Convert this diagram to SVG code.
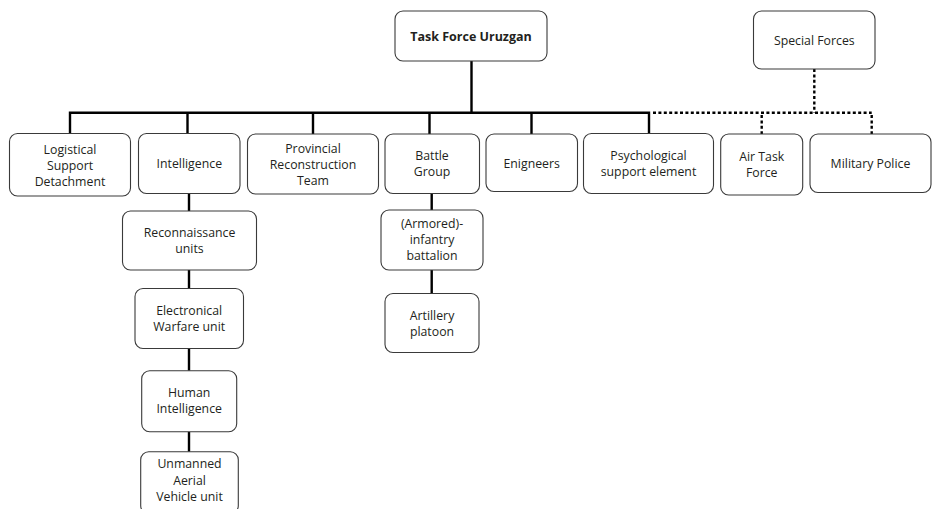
<svg xmlns="http://www.w3.org/2000/svg" width="932" height="509" viewBox="0 0 932 509">
  <style>
    .box { fill: #ffffff; stroke: #3a3a3a; stroke-width: 1.1; }
    .lbl { font-family: "Open Sans", "Liberation Sans", sans-serif; font-size: 12.3px; fill: #231f20; text-anchor: middle; }
    .title { font-weight: bold; font-size: 12.5px; }
    .solid { fill: none; stroke: #000000; stroke-width: 2.4; }
    .dotted { fill: none; stroke: #000000; stroke-width: 2.4; stroke-dasharray: 3 2.4; }
  </style>
  <rect width="932" height="509" fill="#ffffff"/>

  <!-- connectors -->
  <g id="connectors">
    <path class="solid" d="M471.5 61 V112.7 M68.8 112.7 H650.2 M70 112.7 V133.5 M187.5 112.7 V133.5 M313 112.7 V134 M429.5 112.7 V134 M531.5 112.7 V134 M649 112.7 V133.5"/>
    <path class="solid" d="M189 193.5 V211 M189 270 V288.5 M189 348.5 V370.7 M189 431.7 V451.7"/>
    <path class="solid" d="M431.7 193.5 V210 M431.7 270 V293.5"/>
    <path class="dotted" d="M653 112.7 H871.7 M814.3 69 V112.7 M761.7 115 V134 M871.7 115 V134"/>
  </g>

  <!-- top level -->
  <g id="task-force-uruzgan">
    <rect class="box" x="395" y="11" width="152" height="50" rx="8"/>
    <text class="lbl title" x="471" y="40.5">Task Force Uruzgan</text>
  </g>
  <g id="special-forces">
    <rect class="box" x="753.5" y="11" width="121.5" height="58" rx="8"/>
    <text class="lbl" x="814.3" y="44.5">Special Forces</text>
  </g>

  <!-- second row -->
  <g id="logistical-support">
    <rect class="box" x="9.5" y="133.5" width="121" height="62.5" rx="8"/>
    <text class="lbl" x="70" y="153.5">Logistical</text>
    <text class="lbl" x="70" y="169.5">Support</text>
    <text class="lbl" x="70" y="185.5">Detachment</text>
  </g>
  <g id="intelligence">
    <rect class="box" x="138.5" y="133.5" width="101.5" height="60" rx="8"/>
    <text class="lbl" x="189.3" y="167.5">Intelligence</text>
  </g>
  <g id="provincial-reconstruction-team">
    <rect class="box" x="247.5" y="134" width="131" height="60" rx="8"/>
    <text class="lbl" x="313" y="152.5">Provincial</text>
    <text class="lbl" x="313" y="168.5">Reconstruction</text>
    <text class="lbl" x="313" y="184.5">Team</text>
  </g>
  <g id="battle-group">
    <rect class="box" x="385" y="134" width="94.5" height="59.5" rx="8"/>
    <text class="lbl" x="432" y="160">Battle</text>
    <text class="lbl" x="432" y="176">Group</text>
  </g>
  <g id="engineers">
    <rect class="box" x="486" y="134" width="91.5" height="57.5" rx="8"/>
    <text class="lbl" x="531.7" y="167.5">Enigneers</text>
  </g>
  <g id="psychological-support">
    <rect class="box" x="583.5" y="133.5" width="130" height="60" rx="8"/>
    <text class="lbl" x="648.5" y="160">Psychological</text>
    <text class="lbl" x="648.5" y="176">support element</text>
  </g>
  <g id="air-task-force">
    <rect class="box" x="720.7" y="134" width="82" height="61" rx="8"/>
    <text class="lbl" x="761.7" y="161">Air Task</text>
    <text class="lbl" x="761.7" y="177">Force</text>
  </g>
  <g id="military-police">
    <rect class="box" x="810" y="134" width="121" height="58.5" rx="8"/>
    <text class="lbl" x="870.5" y="168">Military Police</text>
  </g>

  <!-- intelligence sub-units -->
  <g id="reconnaissance-units">
    <rect class="box" x="122.5" y="211" width="134" height="59" rx="8"/>
    <text class="lbl" x="189.5" y="236.5">Reconnaissance</text>
    <text class="lbl" x="189.5" y="252.5">units</text>
  </g>
  <g id="electronic-warfare-unit">
    <rect class="box" x="135" y="288.5" width="108.5" height="60" rx="8"/>
    <text class="lbl" x="189.2" y="314.5">Electronical</text>
    <text class="lbl" x="189.2" y="330.5">Warfare unit</text>
  </g>
  <g id="human-intelligence">
    <rect class="box" x="141.7" y="370.7" width="95" height="61" rx="8"/>
    <text class="lbl" x="189.2" y="397">Human</text>
    <text class="lbl" x="189.2" y="413">Intelligence</text>
  </g>
  <g id="uav-unit">
    <rect class="box" x="140.7" y="451.7" width="97.6" height="62" rx="8"/>
    <text class="lbl" x="189.5" y="468">Unmanned</text>
    <text class="lbl" x="189.5" y="484.5">Aerial</text>
    <text class="lbl" x="189.5" y="501">Vehicle unit</text>
  </g>

  <!-- battle group sub-units -->
  <g id="infantry-battalion">
    <rect class="box" x="381" y="210" width="102" height="60" rx="8"/>
    <text class="lbl" x="432" y="228">(Armored)-</text>
    <text class="lbl" x="432" y="244">infantry</text>
    <text class="lbl" x="432" y="260">battalion</text>
  </g>
  <g id="artillery-platoon">
    <rect class="box" x="385" y="293.5" width="94" height="59" rx="8"/>
    <text class="lbl" x="432" y="319.5">Artillery</text>
    <text class="lbl" x="432" y="335.5">platoon</text>
  </g>
</svg>
